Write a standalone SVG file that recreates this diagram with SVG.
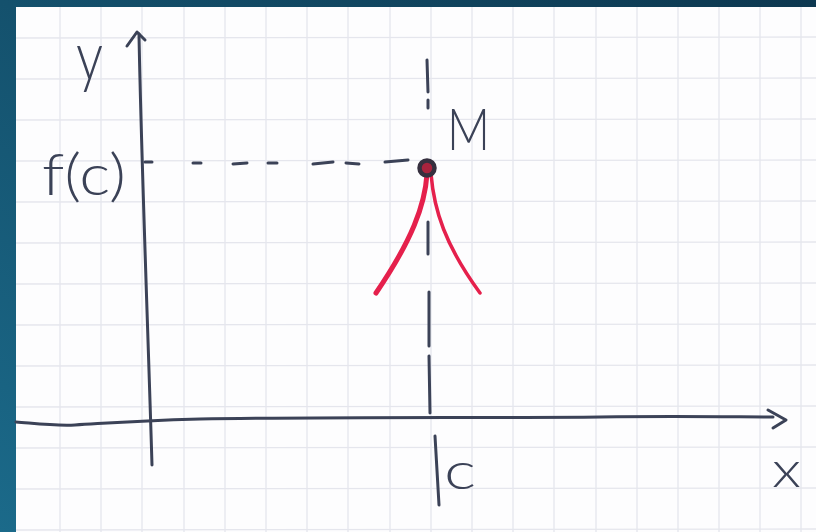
<svg xmlns="http://www.w3.org/2000/svg" width="816" height="532" viewBox="0 0 816 532">
<defs>
<linearGradient id="bg" x1="1" y1="0" x2="0" y2="1">
<stop offset="0" stop-color="#0d3850"/>
<stop offset="1" stop-color="#1b6a8a"/>
</linearGradient>
<style>
.grid line{stroke:#e5e6ed;stroke-width:1.3}
.ink{fill:none;stroke:#3b4257;stroke-linecap:round;stroke-linejoin:round}
.red{fill:none;stroke:#e5204c;stroke-linecap:round}
.lbl{font-family:"Lato","Liberation Sans",sans-serif;font-weight:300;fill:#3b4257}
</style>
</defs>
<rect width="816" height="532" fill="url(#bg)"/>
<rect x="16" y="7" width="800" height="525" fill="#fdfdfe"/>
<g class="grid" id="grid">
<line x1="60" y1="7" x2="60" y2="532"/>
<line x1="101" y1="7" x2="101" y2="532"/>
<line x1="142" y1="7" x2="142" y2="532"/>
<line x1="184" y1="7" x2="184" y2="532"/>
<line x1="225" y1="7" x2="225" y2="532"/>
<line x1="266" y1="7" x2="266" y2="532"/>
<line x1="307" y1="7" x2="307" y2="532"/>
<line x1="348" y1="7" x2="348" y2="532"/>
<line x1="390" y1="7" x2="390" y2="532"/>
<line x1="431" y1="7" x2="431" y2="532"/>
<line x1="472" y1="7" x2="472" y2="532"/>
<line x1="513" y1="7" x2="513" y2="532"/>
<line x1="554" y1="7" x2="554" y2="532"/>
<line x1="596" y1="7" x2="596" y2="532"/>
<line x1="637" y1="7" x2="637" y2="532"/>
<line x1="678" y1="7" x2="678" y2="532"/>
<line x1="719" y1="7" x2="719" y2="532"/>
<line x1="760" y1="7" x2="760" y2="532"/>
<line x1="801" y1="7" x2="801" y2="532"/>
<line x1="16" y1="38" x2="816" y2="37"/>
<line x1="16" y1="79" x2="816" y2="78"/>
<line x1="16" y1="120" x2="816" y2="119"/>
<line x1="16" y1="161" x2="816" y2="160"/>
<line x1="16" y1="202" x2="816" y2="201"/>
<line x1="16" y1="243" x2="816" y2="242"/>
<line x1="16" y1="284" x2="816" y2="283"/>
<line x1="16" y1="325" x2="816" y2="324"/>
<line x1="16" y1="366" x2="816" y2="365"/>
<line x1="16" y1="407" x2="816" y2="406"/>
<line x1="16" y1="448" x2="816" y2="447"/>
<line x1="16" y1="489" x2="816" y2="488"/>
<line x1="16" y1="530" x2="816" y2="529"/>
</g>
<g id="connectors">
<path id="x-axis" class="ink" stroke-width="3" d="M16,422 C40,424 55,426 75,425 C110,423 130,421 200,419 C320,417 500,418 600,417 C680,416 740,417 773,417"/>
<path id="x-arrow" class="ink" stroke-width="3" d="M768,410 L786,420 L773,428"/>
<path id="y-axis" class="ink" stroke-width="3" d="M139,34 C141,150 148,330 152,465"/>
<path id="y-arrow" class="ink" stroke-width="3" d="M127,46 L137,32 L145,40"/>
<line id="fc-tick" class="ink" stroke-width="3" x1="145" y1="162" x2="152" y2="162"/>
<path id="h-dash" class="ink" stroke-width="3" d="M193,163 L201,163 M233,164 L247,163 M268,163 L277,163 M313,164 L333,162 M346,163 L359,164 M385,162 L408,160"/>
<path id="v-dash" class="ink" stroke-width="3" d="M427,60 L428,92 M428,100 L428,108 M428,222 L428,254 M429,292 L429,346 M429,356 L430,413"/>
<line id="c-tick" class="ink" stroke-width="3" x1="435" y1="436" x2="439" y2="505"/>
</g>
<g id="curve">
<path class="red" stroke-width="5" d="M427,174 C425,205 412,240 376,293"/>
<path class="red" stroke-width="3.5" d="M431,174 C434,210 445,245 480,293"/>
</g>
<g id="point-M">
<circle cx="427" cy="168" r="7.5" fill="#a8233d" stroke="#36303f" stroke-width="4.5"/>
</g>
<g id="labels">
<text id="lbl-y" class="lbl" x="76" y="80" font-size="68" textLength="27" lengthAdjust="spacingAndGlyphs">y</text>
<text id="lbl-fc" class="lbl" x="42" y="195" font-size="58" textLength="84" lengthAdjust="spacingAndGlyphs">f(c)</text>
<text id="lbl-M" class="lbl" x="447" y="150" font-size="58" textLength="43" lengthAdjust="spacingAndGlyphs">M</text>
<text id="lbl-c" class="lbl" x="444" y="489" font-size="52" textLength="32" lengthAdjust="spacingAndGlyphs">c</text>
<text id="lbl-x" class="lbl" x="772" y="487" font-size="50" textLength="29" lengthAdjust="spacingAndGlyphs">x</text>
</g>
</svg>
